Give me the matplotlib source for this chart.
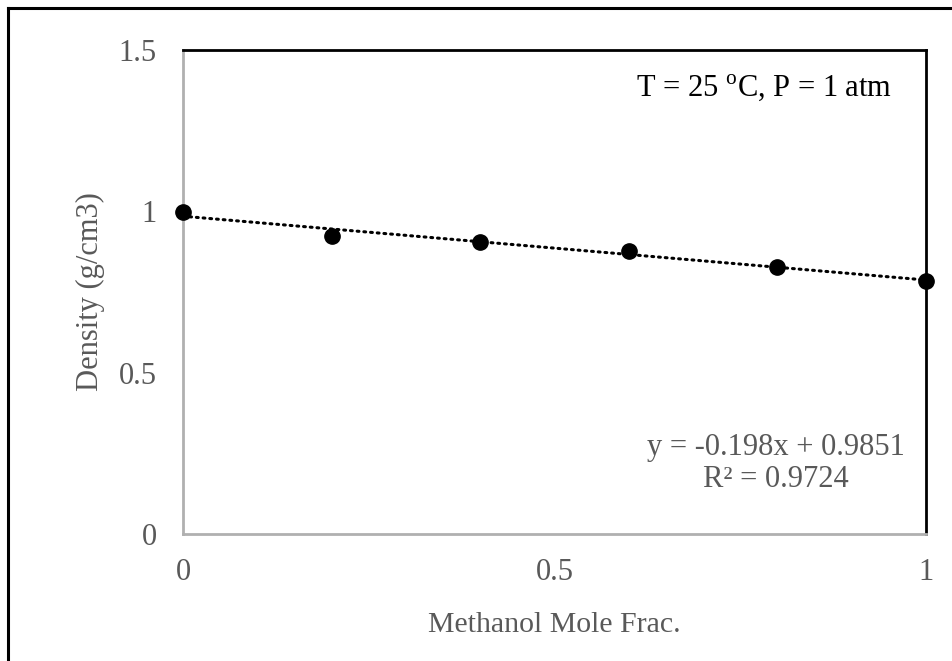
import numpy as np
import matplotlib.pyplot as plt
from matplotlib.lines import Line2D

plt.rcParams['font.family'] = ['Liberation Serif', 'DejaVu Serif']
plt.rcParams['mathtext.fontset'] = 'custom'
plt.rcParams['mathtext.rm'] = 'Liberation Serif'

# methanol mole fraction vs density at 25 C
mole_frac = [0.0, 0.2, 0.4, 0.6, 0.8, 1.0]
density = [0.998, 0.923, 0.906, 0.877, 0.828, 0.784]

gray = "#595959"

fig = plt.figure(figsize=(9.52, 6.61), dpi=100)
ax = fig.add_axes([183 / 952, 127 / 661, 743 / 952, 484 / 661])

# linear trendline
coef = np.polyfit(mole_frac, density, 1)
xs = np.array([0.0, 1.0])
ax.plot(xs, np.polyval(coef, xs), color="black", lw=2.2, ls=(0, (0.6, 1.6)),
        dash_capstyle="round", zorder=2)
ax.plot(mole_frac, density, "o", color="black", ms=11, zorder=3, clip_on=False)

ax.set_xlim(0, 1)
ax.set_ylim(0, 1.5)
ax.set_xticks([0, 0.5, 1])
ax.set_xticklabels(["0", "0.5", "1"])
ax.set_yticks([0, 0.5, 1, 1.5])
ax.set_yticklabels(["0", "0.5", "1", "1.5"])
ax.tick_params(axis="x", length=0, pad=17, labelsize=22, labelcolor=gray)
ax.tick_params(axis="y", length=0, pad=19, labelsize=22, labelcolor=gray)

ax.spines["left"].set_color("#b0b0b0")
ax.spines["bottom"].set_color("#b0b0b0")
ax.spines["left"].set_linewidth(2)
ax.spines["bottom"].set_linewidth(2)
ax.spines["top"].set_color("black")
ax.spines["right"].set_color("black")
ax.spines["top"].set_linewidth(2)
ax.spines["right"].set_linewidth(2)

ax.set_xlabel("Methanol Mole Frac.", fontsize=21.5, color=gray, labelpad=18)
ax.set_ylabel("Density (g/cm3)", fontsize=22, color=gray, labelpad=10)

ax.text(0.955, 0.922, r"T = 25 $^{\rm o}$C, P = 1 atm", transform=ax.transAxes,
        ha="right", va="center", fontsize=22, color="black")
ax.text(0.798, 0.146, "y = -0.198x + 0.9851\nR² = 0.9724", transform=ax.transAxes,
        ha="center", va="center", fontsize=22, color=gray, linespacing=1.15,
        multialignment="center")

# outer chart border (left and top visible)
fig.add_artist(Line2D([8 / 952, 8 / 952], [0, 1 - 8 / 661], color="black", lw=2.2))
fig.add_artist(Line2D([8 / 952, 1], [1 - 8 / 661, 1 - 8 / 661], color="black", lw=2.2))

fig.savefig("out.png", dpi=100)
